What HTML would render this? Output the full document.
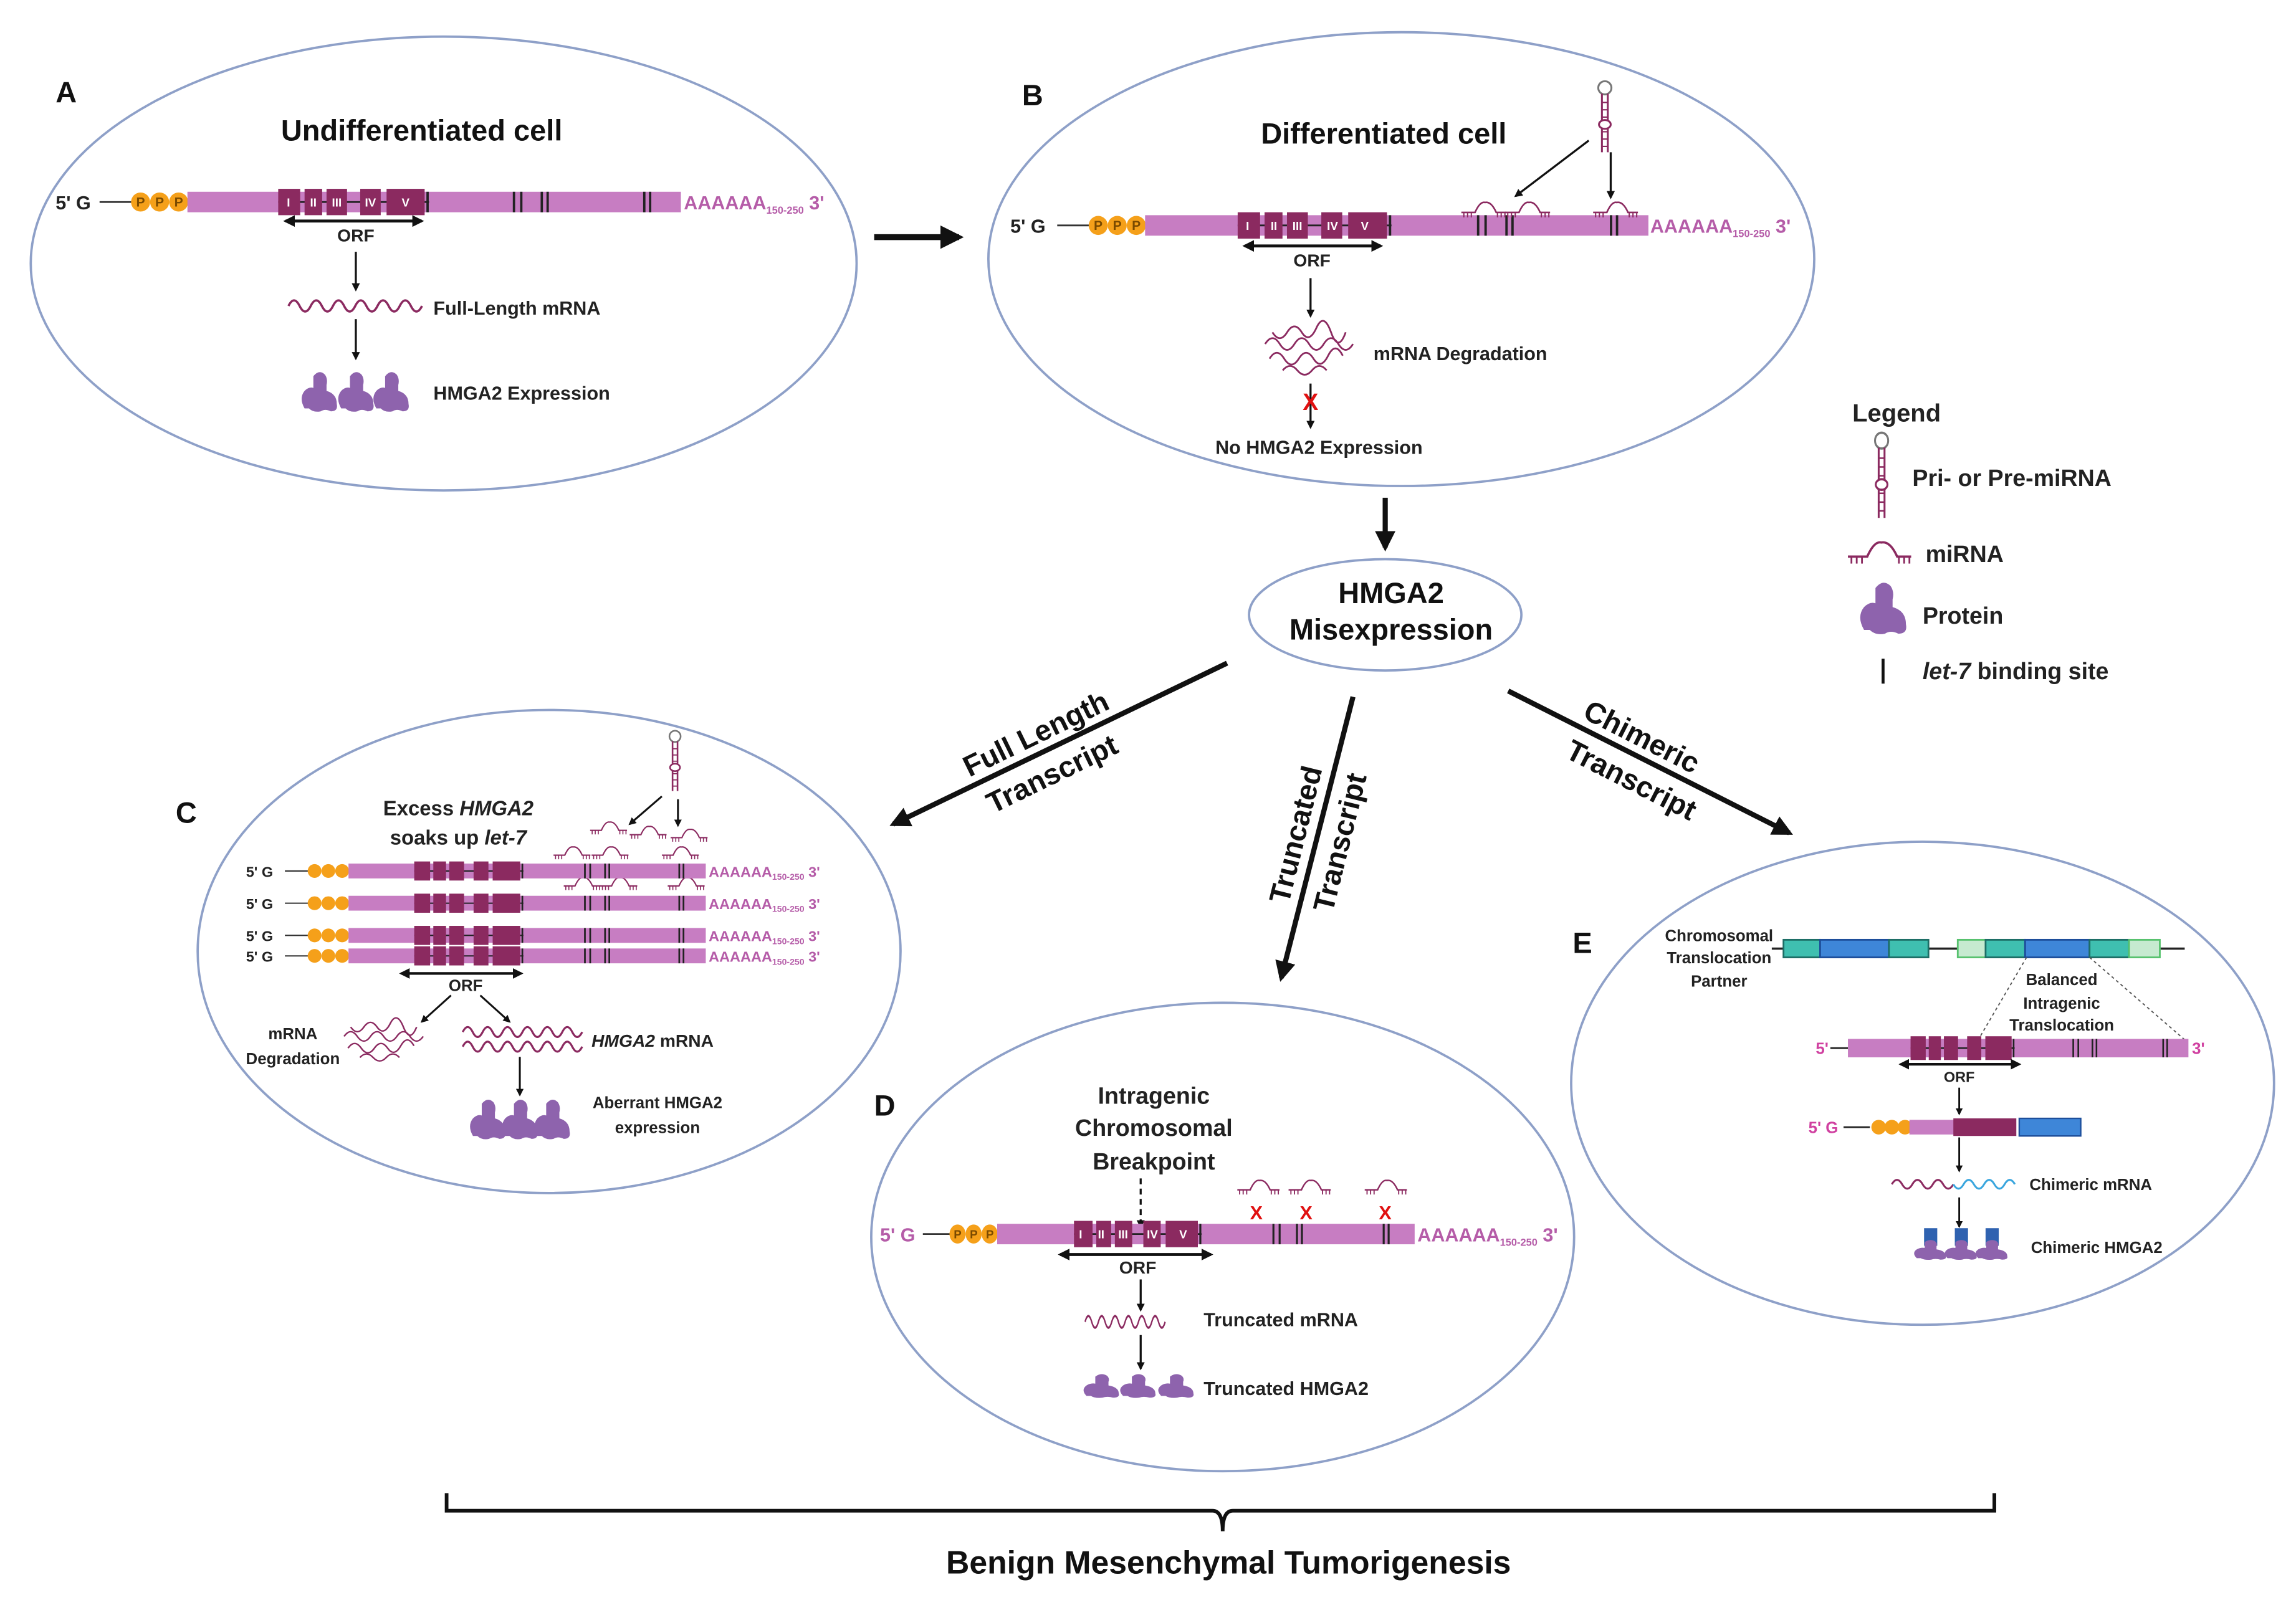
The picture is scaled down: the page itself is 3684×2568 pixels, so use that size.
<!DOCTYPE html>
<html><head><meta charset="utf-8"><style>
html,body{margin:0;padding:0;background:#fff}
svg{display:block}
text{font-family:"Liberation Sans",Arial,sans-serif;font-weight:bold}
</style></head><body>
<svg width="3684" height="2568" viewBox="0 0 1568 1093" preserveAspectRatio="none" xmlns="http://www.w3.org/2000/svg" fill="#222">
<defs>
<g id="gene">
<rect x="0" y="-7" width="337" height="14" fill="#c77dc2"/>
<line x1="62" y1="0" x2="165" y2="0" stroke="#222" stroke-width="1.2"/>
<rect x="62" y="-9" width="15" height="18" fill="#8b2a60"/>
<rect x="80" y="-9" width="12" height="18" fill="#8b2a60"/>
<rect x="95" y="-9" width="14" height="18" fill="#8b2a60"/>
<rect x="118" y="-9" width="14" height="18" fill="#8b2a60"/>
<rect x="136" y="-9" width="26" height="18" fill="#8b2a60"/>
<g stroke="#222" stroke-width="1.6"><line x1="164" y1="-7" x2="164" y2="7"/><line x1="223" y1="-7" x2="223" y2="7"/><line x1="228" y1="-7" x2="228" y2="7"/><line x1="242" y1="-7" x2="242" y2="7"/><line x1="246" y1="-7" x2="246" y2="7"/><line x1="312" y1="-7" x2="312" y2="7"/><line x1="316" y1="-7" x2="316" y2="7"/></g>
</g>
<g id="cap">
<line x1="-60" y1="0" x2="-38" y2="0" stroke="#333" stroke-width="1.2"/>
<circle cx="-32" cy="0" r="6.5" fill="#f5a01a"/><circle cx="-19" cy="0" r="6.5" fill="#f5a01a"/><circle cx="-6" cy="0" r="6.5" fill="#f5a01a"/>
</g>
<path id="wave" d="M0,0 q4,-8 8,0 t8,0 t8,0 t8,0 t8,0 t8,0 t8,0 t8,0 t8,0 t8,0 t8,0 t8,0" fill="none" stroke-width="1.6"/>
<g id="prot"><path d="M-10,11 q-4,-7 0,-12 q3,-3 6,-2 l0,-8 q4,-5 8,-1 q2,3 1,7 l0,4 q7,2 7,9 q1,5 -4,5 q-4,-2 -7,0 q-5,1 -8,-2 z" fill="#8e63ad"/></g>
<g id="mir" fill="none" stroke="#8b2a60" stroke-width="1.3"><path d="M0,6 L11,6 Q15,-3 19,-2 Q24,-3 28,6 L36,6"/><g stroke-width="1"><line x1="2" y1="6" x2="2" y2="10"/><line x1="5" y1="6" x2="5" y2="10"/><line x1="8" y1="6" x2="8" y2="10"/><line x1="29" y1="6" x2="29" y2="10"/><line x1="32" y1="6" x2="32" y2="10"/><line x1="35" y1="6" x2="35" y2="10"/></g></g>
<g id="hp" fill="none" stroke="#8b2a60" stroke-width="1.3"><circle cx="0" cy="0" r="4.5" fill="#fff" stroke="#777"/><line x1="-2" y1="4" x2="-2" y2="44"/><line x1="2" y1="4" x2="2" y2="44"/><g stroke-width="0.9"><line x1="-2" y1="10" x2="2" y2="10"/><line x1="-2" y1="15" x2="2" y2="15"/><line x1="-2" y1="20" x2="2" y2="20"/><line x1="-2" y1="30" x2="2" y2="30"/><line x1="-2" y1="35" x2="2" y2="35"/><line x1="-2" y1="40" x2="2" y2="40"/></g><ellipse cx="0" cy="25" rx="4" ry="3" fill="#fff"/></g>
<g id="tangle" fill="none" stroke="#8b2a60" stroke-width="1.2"><path d="M0,10 q5,-8 10,0 t10,0 t10,0 t10,0 t10,0 t10,0"/><path d="M5,2 q5,8 10,0 t10,0 t10,-3 t10,3 t10,0"/><path d="M3,20 q5,-8 10,0 t10,0 t10,0 t10,-2 t10,0"/><path d="M12,28 q5,-6 10,0 t10,0 t10,0"/></g>
<marker id="ahs" viewBox="0 0 10 10" refX="8" refY="5" markerWidth="4" markerHeight="4" orient="auto-start-reverse"><path d="M0,0 L10,5 L0,10 z" fill="#111"/></marker>
</defs>

<g fill="none" stroke="#8ea0c8" stroke-width="1.6">
<ellipse cx="303" cy="180" rx="282" ry="155"/>
<ellipse cx="957" cy="177" rx="282" ry="155"/>
<ellipse cx="946" cy="420" rx="93" ry="38"/>
<ellipse cx="375" cy="650" rx="240" ry="165"/>
<ellipse cx="835" cy="845" rx="240" ry="160"/>
<ellipse cx="1313" cy="740" rx="240" ry="165"/>
</g>

<g font-size="20" fill="#111"><text x="38" y="70">A</text><text x="698" y="72">B</text><text x="120" y="562">C</text><text x="597" y="762">D</text><text x="1074" y="651">E</text></g>

<!-- A -->
<text x="288" y="96" font-size="20" text-anchor="middle" fill="#111">Undifferentiated cell</text>
<text x="38" y="143" font-size="13" font-weight="normal">5' G</text>
<use href="#cap" transform="translate(128,138)"/>
<g font-size="9" font-weight="normal" text-anchor="middle" fill="#7a4a00"><text x="96" y="141">P</text><text x="109" y="141">P</text><text x="122" y="141">P</text></g>
<use href="#gene" transform="translate(128,138)"/>
<g font-size="8" text-anchor="middle" font-weight="normal" fill="#fff"><text x="197" y="141">I</text><text x="214" y="141">II</text><text x="230" y="141">III</text><text x="253" y="141">IV</text><text x="277" y="141">V</text></g>
<text x="467" y="143" font-size="13" font-weight="normal" fill="#b55ca8">AAAAAA<tspan font-size="7" dy="3">150-250</tspan><tspan dy="-3" font-size="13"> 3'</tspan></text>
<line x1="195" y1="151" x2="288" y2="151" stroke="#111" stroke-width="2" marker-start="url(#ahs)" marker-end="url(#ahs)"/>
<text x="243" y="165" font-size="12" text-anchor="middle">ORF</text>
<line x1="243" y1="172" x2="243" y2="198" stroke="#111" stroke-width="1.4" marker-end="url(#ahs)"/>
<use href="#wave" transform="translate(197,209) scale(0.95)" stroke="#8b2a60"/>
<text x="296" y="215" font-size="13">Full-Length mRNA</text>
<line x1="243" y1="218" x2="243" y2="245" stroke="#111" stroke-width="1.4" marker-end="url(#ahs)"/>
<use href="#prot" transform="translate(218,268)"/><use href="#prot" transform="translate(243,268)"/><use href="#prot" transform="translate(267,268)"/>
<text x="296" y="273" font-size="13">HMGA2 Expression</text>

<line x1="597" y1="162" x2="655" y2="162" stroke="#111" stroke-width="4" marker-end="url(#ahs)"/>

<!-- B -->
<text x="945" y="98" font-size="20" text-anchor="middle" fill="#111">Differentiated cell</text>
<text x="690" y="159" font-size="13" font-weight="normal">5' G</text>
<use href="#cap" transform="translate(782,154)"/>
<g font-size="9" font-weight="normal" text-anchor="middle" fill="#7a4a00"><text x="750" y="157">P</text><text x="763" y="157">P</text><text x="776" y="157">P</text></g>
<use href="#gene" transform="translate(782,154) scale(1.02,1)"/>
<g font-size="8" text-anchor="middle" font-weight="normal" fill="#fff"><text x="852" y="157">I</text><text x="870" y="157">II</text><text x="886" y="157">III</text><text x="910" y="157">IV</text><text x="932" y="157">V</text></g>
<text x="1127" y="159" font-size="13" font-weight="normal" fill="#b55ca8">AAAAAA<tspan font-size="7" dy="3">150-250</tspan><tspan dy="-3" font-size="13"> 3'</tspan></text>
<use href="#mir" transform="translate(998,140) scale(0.85)"/><use href="#mir" transform="translate(1028,140) scale(0.85)"/><use href="#mir" transform="translate(1088,140) scale(0.85)"/>
<use href="#hp" transform="translate(1096,60)"/>
<line x1="1085" y1="96" x2="1035" y2="134" stroke="#111" stroke-width="1.4" marker-end="url(#ahs)"/>
<line x1="1100" y1="104" x2="1100" y2="135" stroke="#111" stroke-width="1.4" marker-end="url(#ahs)"/>
<line x1="850" y1="168" x2="943" y2="168" stroke="#111" stroke-width="2" marker-start="url(#ahs)" marker-end="url(#ahs)"/>
<text x="896" y="182" font-size="12" text-anchor="middle">ORF</text>
<line x1="895" y1="190" x2="895" y2="216" stroke="#111" stroke-width="1.4" marker-end="url(#ahs)"/>
<use href="#tangle" transform="translate(864,225)"/>
<text x="938" y="246" font-size="13">mRNA Degradation</text>
<line x1="895" y1="262" x2="895" y2="292" stroke="#111" stroke-width="1.4" marker-end="url(#ahs)"/>
<text x="895" y="280" font-size="16" fill="#e01010" text-anchor="middle">X</text>
<text x="830" y="310" font-size="13">No HMGA2 Expression</text>

<line x1="946" y1="340" x2="946" y2="374" stroke="#111" stroke-width="3.5" marker-end="url(#ahs)"/>
<text x="950" y="412" font-size="20" text-anchor="middle" fill="#111">HMGA2</text>
<text x="950" y="437" font-size="20" text-anchor="middle" fill="#111">Misexpression</text>

<g stroke="#111" stroke-width="3.5">
<line x1="838" y1="453" x2="610" y2="563" marker-end="url(#ahs)"/>
<line x1="924" y1="476" x2="875" y2="668" marker-end="url(#ahs)"/>
<line x1="1030" y1="472" x2="1222" y2="569" marker-end="url(#ahs)"/>
</g>
<g font-size="20" fill="#111">
<text transform="translate(662,531) rotate(-26)">Full Length</text>
<text transform="translate(678,556) rotate(-26)">Transcript</text>
<text transform="translate(880,618) rotate(-76)">Truncated</text>
<text transform="translate(910,624) rotate(-76)">Transcript</text>
<text transform="translate(1080,490) rotate(27)">Chimeric</text>
<text transform="translate(1068,517) rotate(27)">Transcript</text>
</g>

<!-- C -->
<text x="313" y="557" font-size="14" text-anchor="middle">Excess <tspan font-style="italic">HMGA2</tspan></text>
<text x="313" y="577" font-size="14" text-anchor="middle">soaks up <tspan font-style="italic">let-7</tspan></text>
<use href="#hp" transform="translate(461,503) scale(0.85)"/>
<line x1="452" y1="544" x2="430" y2="563" stroke="#111" stroke-width="1.3" marker-end="url(#ahs)"/>
<line x1="463" y1="546" x2="463" y2="564" stroke="#111" stroke-width="1.3" marker-end="url(#ahs)"/>
<use href="#mir" transform="translate(403,563) scale(0.7)"/><use href="#mir" transform="translate(430,566) scale(0.7)"/><use href="#mir" transform="translate(458,568) scale(0.7)"/>
<use href="#mir" transform="translate(378,580) scale(0.7)"/><use href="#mir" transform="translate(404,580) scale(0.7)"/><use href="#mir" transform="translate(452,580) scale(0.7)"/>
<use href="#mir" transform="translate(385,601) scale(0.7)"/><use href="#mir" transform="translate(410,601) scale(0.7)"/><use href="#mir" transform="translate(456,601) scale(0.7)"/>
<g font-size="10" font-weight="normal">
<text x="168" y="599">5' G</text><text x="168" y="621">5' G</text><text x="168" y="643">5' G</text><text x="168" y="657">5' G</text>
</g>
<g transform="translate(238,595) scale(0.724)"><use href="#cap"/><use href="#gene"/></g>
<g transform="translate(238,617) scale(0.724)"><use href="#cap"/><use href="#gene"/></g>
<g transform="translate(238,639) scale(0.724)"><use href="#cap"/><use href="#gene"/></g>
<g transform="translate(238,653) scale(0.724)"><use href="#cap"/><use href="#gene"/></g>
<g font-size="10" font-weight="normal" fill="#b55ca8">
<text x="484" y="599">AAAAAA<tspan font-size="6" dy="2">150-250</tspan><tspan dy="-2"> 3'</tspan></text>
<text x="484" y="621">AAAAAA<tspan font-size="6" dy="2">150-250</tspan><tspan dy="-2"> 3'</tspan></text>
<text x="484" y="643">AAAAAA<tspan font-size="6" dy="2">150-250</tspan><tspan dy="-2"> 3'</tspan></text>
<text x="484" y="657">AAAAAA<tspan font-size="6" dy="2">150-250</tspan><tspan dy="-2"> 3'</tspan></text>
</g>
<line x1="274" y1="665" x2="356" y2="665" stroke="#111" stroke-width="1.8" marker-start="url(#ahs)" marker-end="url(#ahs)"/>
<text x="318" y="677" font-size="11" text-anchor="middle">ORF</text>
<line x1="308" y1="680" x2="288" y2="698" stroke="#111" stroke-width="1.3" marker-end="url(#ahs)"/>
<line x1="328" y1="680" x2="348" y2="698" stroke="#111" stroke-width="1.3" marker-end="url(#ahs)"/>
<use href="#tangle" transform="translate(235,700) scale(0.9,0.8)"/>
<text x="200" y="710" font-size="11" text-anchor="middle">mRNA</text>
<text x="200" y="727" font-size="11" text-anchor="middle">Degradation</text>
<use href="#wave" transform="translate(316,705) scale(0.85)" stroke="#8b2a60"/>
<use href="#wave" transform="translate(316,715) scale(0.85)" stroke="#8b2a60"/>
<text x="404" y="715" font-size="12"><tspan font-style="italic">HMGA2</tspan> mRNA</text>
<line x1="355" y1="722" x2="355" y2="748" stroke="#111" stroke-width="1.3" marker-end="url(#ahs)"/>
<use href="#prot" transform="translate(333,765)"/><use href="#prot" transform="translate(355,765)"/><use href="#prot" transform="translate(377,765)"/>
<text x="449" y="757" font-size="11" text-anchor="middle">Aberrant HMGA2</text>
<text x="449" y="774" font-size="11" text-anchor="middle">expression</text>

<!-- D -->
<text x="788" y="754" font-size="16" text-anchor="middle">Intragenic</text>
<text x="788" y="776" font-size="16" text-anchor="middle">Chromosomal</text>
<text x="788" y="799" font-size="16" text-anchor="middle">Breakpoint</text>
<line x1="779" y1="805" x2="779" y2="838" stroke="#111" stroke-width="1.4" stroke-dasharray="4,3" marker-end="url(#ahs)"/>
<use href="#mir" transform="translate(845,808) scale(0.8)"/><use href="#mir" transform="translate(880,808) scale(0.8)"/><use href="#mir" transform="translate(932,808) scale(0.8)"/>
<g font-size="13" fill="#e01010" text-anchor="middle"><text x="858" y="833">X</text><text x="892" y="833">X</text><text x="946" y="833">X</text></g>
<text x="601" y="848" font-size="13" font-weight="normal" fill="#b55ca8">5' G</text>
<g transform="translate(681,843) scale(0.846,1)"><use href="#cap"/><use href="#gene"/></g>
<g font-size="8" font-weight="normal" text-anchor="middle" fill="#7a4a00"><text x="654" y="846">P</text><text x="665" y="846">P</text><text x="676" y="846">P</text></g>
<g font-size="8" text-anchor="middle" font-weight="normal" fill="#fff"><text x="738" y="846">I</text><text x="752" y="846">II</text><text x="767" y="846">III</text><text x="787" y="846">IV</text><text x="808" y="846">V</text></g>
<text x="968" y="848" font-size="13" font-weight="normal" fill="#b55ca8">AAAAAA<tspan font-size="7" dy="3">150-250</tspan><tspan dy="-3" font-size="13"> 3'</tspan></text>
<line x1="724" y1="857" x2="827" y2="857" stroke="#111" stroke-width="2" marker-start="url(#ahs)" marker-end="url(#ahs)"/>
<text x="777" y="870" font-size="12" text-anchor="middle">ORF</text>
<line x1="779" y1="874" x2="779" y2="895" stroke="#111" stroke-width="1.4" marker-end="url(#ahs)"/>
<use href="#wave" transform="translate(741,903) scale(0.57,1)" stroke="#8b2a60"/>
<text x="822" y="906" font-size="13">Truncated mRNA</text>
<line x1="779" y1="912" x2="779" y2="935" stroke="#111" stroke-width="1.4" marker-end="url(#ahs)"/>
<use href="#prot" transform="translate(752,947) scale(1,0.6)"/><use href="#prot" transform="translate(777,947) scale(1,0.6)"/><use href="#prot" transform="translate(803,947) scale(1,0.6)"/>
<text x="822" y="953" font-size="13">Truncated HMGA2</text>

<!-- E -->
<g font-size="11" text-anchor="middle"><text x="1174" y="643">Chromosomal</text><text x="1174" y="658">Translocation</text><text x="1174" y="674">Partner</text>
<text x="1408" y="673">Balanced</text><text x="1408" y="689">Intragenic</text><text x="1408" y="704">Translocation</text></g>
<line x1="1210" y1="648" x2="1492" y2="648" stroke="#222" stroke-width="1.5"/>
<g stroke-width="1.2">
<rect x="1218" y="642" width="25" height="12" fill="#3fbfb0" stroke="#1d6e66"/>
<rect x="1243" y="642" width="47" height="12" fill="#3e86d8" stroke="#1d4e9a"/>
<rect x="1290" y="642" width="27" height="12" fill="#3fbfb0" stroke="#1d6e66"/>
<rect x="1337" y="642" width="19" height="12" fill="#c6ead0" stroke="#57c26e"/>
<rect x="1356" y="642" width="27" height="12" fill="#3fbfb0" stroke="#1d6e66"/>
<rect x="1383" y="642" width="44" height="12" fill="#3e86d8" stroke="#1d4e9a"/>
<rect x="1427" y="642" width="27" height="12" fill="#3fbfb0" stroke="#1d6e66"/>
<rect x="1454" y="642" width="21" height="12" fill="#c6ead0" stroke="#57c26e"/>
</g>
<line x1="1384" y1="654" x2="1350" y2="712" stroke="#555" stroke-width="0.8" stroke-dasharray="2,2"/>
<line x1="1427" y1="654" x2="1494" y2="712" stroke="#555" stroke-width="0.8" stroke-dasharray="2,2"/>
<text x="1240" y="720" font-size="11" font-weight="normal" fill="#d040a0">5'</text>
<line x1="1250" y1="716" x2="1262" y2="716" stroke="#222" stroke-width="1.2"/>
<use href="#gene" transform="translate(1262,716) scale(0.69,0.9)"/>
<text x="1497" y="720" font-size="11" font-weight="normal" fill="#d040a0">3'</text>
<line x1="1298" y1="727" x2="1379" y2="727" stroke="#111" stroke-width="1.8" marker-start="url(#ahs)" marker-end="url(#ahs)"/>
<text x="1338" y="739" font-size="10" text-anchor="middle">ORF</text>
<line x1="1338" y1="743" x2="1338" y2="761" stroke="#111" stroke-width="1.2" marker-end="url(#ahs)"/>
<text x="1235" y="774" font-size="11" font-weight="normal" fill="#d040a0">5' G</text>
<line x1="1259" y1="770" x2="1277" y2="770" stroke="#222" stroke-width="1.2"/>
<circle cx="1283" cy="770" r="5" fill="#f5a01a"/><circle cx="1292" cy="770" r="5" fill="#f5a01a"/><circle cx="1301" cy="770" r="5" fill="#f5a01a"/>
<rect x="1304" y="765" width="32" height="10" fill="#c77dc2"/>
<rect x="1334" y="764" width="43" height="12" fill="#8b2a60"/>
<rect x="1379" y="764" width="42" height="12" fill="#3e86d8" stroke="#1d4e9a"/>
<line x1="1338" y1="777" x2="1338" y2="800" stroke="#111" stroke-width="1.2" marker-end="url(#ahs)"/>
<path d="M1292,809 q3.5,-6 7,0 t7,0 t7,0 t7,0 t7,0 t7,0" fill="none" stroke="#8b2a60" stroke-width="1.3"/>
<path d="M1334,809 q3.5,6 7,0 t7,0 t7,0 t7,0 t7,0 t7,0" fill="none" stroke="#3aa6de" stroke-width="1.3"/>
<text x="1386" y="813" font-size="11">Chimeric mRNA</text>
<line x1="1338" y1="818" x2="1338" y2="838" stroke="#111" stroke-width="1.2" marker-end="url(#ahs)"/>
<g fill="#2f62b0"><rect x="1314" y="839" width="9" height="12"/><rect x="1335" y="839" width="9" height="12"/><rect x="1356" y="839" width="9" height="12"/></g>
<use href="#prot" transform="translate(1318,854) scale(0.9,0.5)"/><use href="#prot" transform="translate(1339,854) scale(0.9,0.5)"/><use href="#prot" transform="translate(1360,854) scale(0.9,0.5)"/>
<text x="1387" y="856" font-size="11">Chimeric HMGA2</text>

<!-- legend -->
<text x="1265" y="288" font-size="17">Legend</text>
<use href="#hp" transform="translate(1285,301) scale(1,1.2)"/>
<text x="1306" y="332" font-size="16">Pri- or Pre-miRNA</text>
<use href="#mir" transform="translate(1262,373) scale(1.2)"/>
<text x="1315" y="384" font-size="16">miRNA</text>
<use href="#prot" transform="translate(1286,416) scale(1.3)"/>
<text x="1313" y="426" font-size="16">Protein</text>
<line x1="1286" y1="450" x2="1286" y2="467" stroke="#111" stroke-width="2"/>
<text x="1313" y="464" font-size="16"><tspan font-style="italic">let-7</tspan> binding site</text>

<path d="M305,1020 L305,1032 L828,1032 Q835,1032 835,1046 Q835,1032 842,1032 L1362,1032 L1362,1020" fill="none" stroke="#111" stroke-width="2.5"/>
<text x="839" y="1075" font-size="22" text-anchor="middle" fill="#111">Benign Mesenchymal Tumorigenesis</text>
</svg>
</body></html>
